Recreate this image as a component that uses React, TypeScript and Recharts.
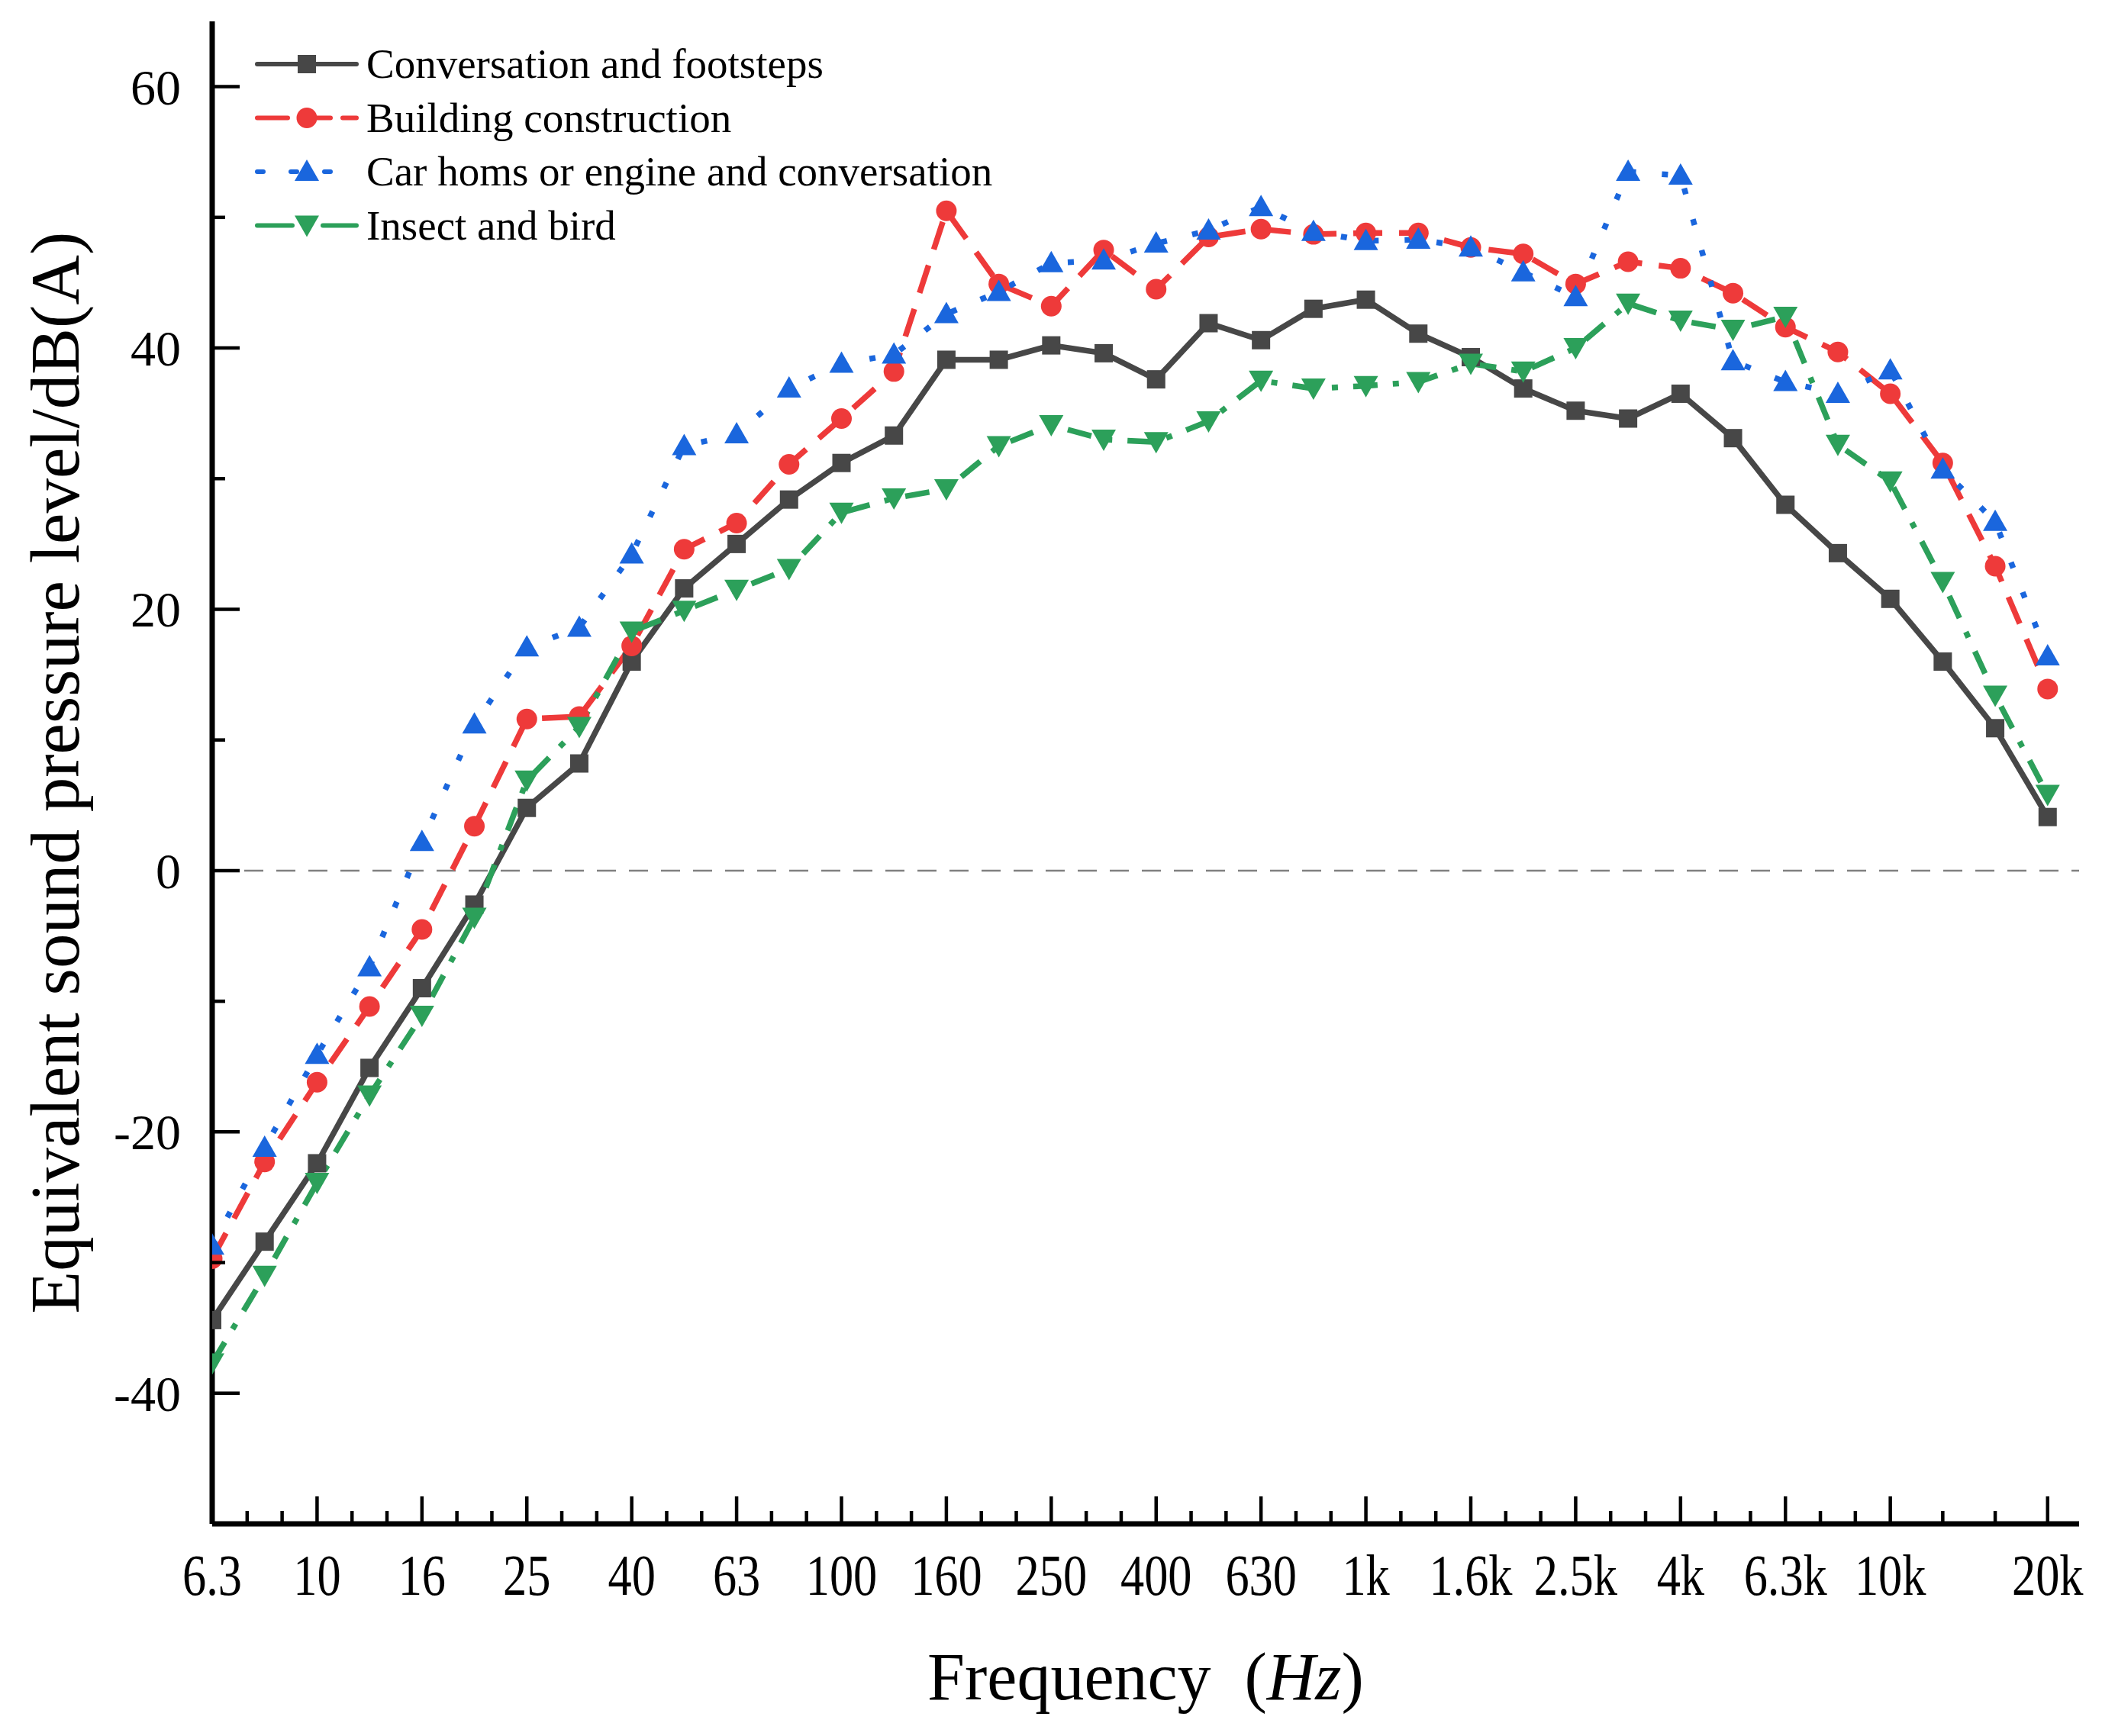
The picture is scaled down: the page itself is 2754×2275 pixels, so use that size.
import React from "react";
import { LineChart, Line, XAxis, YAxis, ReferenceLine, Legend } from "recharts";

// 1/3-octave band centre frequencies (Hz)
const bands = [
  "6.3", "8", "10", "12.5", "16", "20", "25", "31.5", "40", "50", "63", "80",
  "100", "125", "160", "200", "250", "315", "400", "500", "630", "800", "1k",
  "1.25k", "1.6k", "2k", "2.5k", "3.15k", "4k", "5k", "6.3k", "8k", "10k",
  "12.5k", "16k", "20k",
];

const conversation = [
  -34.4, -28.4, -22.4, -15.1, -9.0, -2.6, 4.8, 8.2, 16.0, 21.6, 25.0, 28.4,
  31.2, 33.3, 39.1, 39.1, 40.2, 39.6, 37.6, 41.9, 40.6, 43.0, 43.7, 41.1,
  39.3, 36.9, 35.2, 34.6, 36.5, 33.1, 28.0, 24.3, 20.8, 16.0, 10.9, 4.1,
];

const construction = [
  -29.7, -22.3, -16.2, -10.4, -4.5, 3.4, 11.6, 11.8, 17.2, 24.6, 26.6, 31.1,
  34.6, 38.2, 50.5, 44.9, 43.2, 47.5, 44.5, 48.5, 49.1, 48.7, 48.8, 48.8,
  47.7, 47.2, 44.9, 46.6, 46.1, 44.2, 41.6, 39.7, 36.5, 31.2, 23.3, 13.9,
];

const carHorns = [
  -28.7, -21.2, -14.1, -7.4, 2.2, 11.2, 17.1, 18.6, 24.2, 32.5, 33.4, 36.9,
  38.8, 39.5, 42.6, 44.3, 46.5, 46.7, 48.0, 49.0, 50.8, 48.9, 48.2, 48.3,
  47.7, 45.8, 43.9, 53.5, 53.2, 39.0, 37.4, 36.5, 38.3, 30.7, 26.7, 16.4,
];

const insectBird = [
  -37.7, -31.0, -23.9, -17.2, -11.1, -3.6, 6.9, 11.0, 18.3, 19.9, 21.5, 23.1,
  27.4, 28.5, 29.2, 32.5, 34.1, 33.0, 32.8, 34.4, 37.5, 36.9, 37.1, 37.4,
  38.8, 38.2, 40.0, 43.4, 42.1, 41.4, 42.4, 32.6, 29.8, 22.1, 13.4, 5.8,
];

// bands that carry a label on the x axis
const labelledBands = [
  "6.3", "10", "16", "25", "40", "63", "100", "160", "250", "400", "630",
  "1k", "1.6k", "2.5k", "4k", "6.3k", "10k", "20k",
];

const yTicks = [-50, -40, -30, -20, -10, 0, 10, 20, 30, 40, 50, 60];

const FONT = '"Liberation Serif", "Times New Roman", serif';
const BLACK = "#474747";
const RED = "#ee3a3a";
const BLUE = "#1a66dd";
const GREEN = "#2ca05a";

const data = bands.map((band, i) => ({
  idx: i,
  band,
  conversation: conversation[i],
  construction: construction[i],
  carHorns: carHorns[i],
  insectBird: insectBird[i],
}));

const majorX = labelledBands.map((b) => bands.indexOf(b));
const majorLabel = new Map(majorX.map((v, i) => [v, labelledBands[i]]));
const minorX: number[] = [];
for (let i = 0; i < majorX.length - 1; i++) {
  const a = majorX[i];
  const step = (majorX[i + 1] - a) / 3;
  minorX.push(a + step, a + 2 * step);
}
const xTicks = [...majorX, ...minorX].sort((a, b) => a - b);

function XTick({ x, y, payload }: any) {
  const label = majorLabel.get(payload.value);
  const major = label !== undefined;
  return (
    <g>
      <line x1={x} x2={x} y1={y} y2={y - (major ? 36 : 17)} stroke="#000" strokeWidth={4.5} />
      {major && (
        <text
          transform={`translate(${x},${y + 93}) scale(0.81,1)`}
          textAnchor="middle"
          fontSize={77}
          fontFamily={FONT}
          fill="#000"
        >
          {label}
        </text>
      )}
    </g>
  );
}

function YTick({ x, y, payload }: any) {
  const v = payload.value as number;
  const major = v % 20 === 0;
  return (
    <g>
      <line x1={x} x2={x + (major ? 36 : 17)} y1={y} y2={y} stroke="#000" strokeWidth={4.5} />
      {major && (
        <text x={x - 41} y={y + 23} textAnchor="end" fontSize={66} fontFamily={FONT} fill="#000">
          {v}
        </text>
      )}
    </g>
  );
}

type Shape = "square" | "circle" | "up" | "down";

function marker(shape: Shape, color: string, cx: number, cy: number, key?: string) {
  if (shape === "square") {
    return <rect key={key} x={cx - 12} y={cy - 12} width={24} height={24} fill={color} />;
  }
  if (shape === "circle") {
    return <circle key={key} cx={cx} cy={cy} r={13.5} fill={color} />;
  }
  if (shape === "up") {
    return (
      <path key={key} d={`M${cx},${cy - 16} L${cx + 16},${cy + 12} L${cx - 16},${cy + 12} Z`} fill={color} />
    );
  }
  return (
    <path key={key} d={`M${cx - 16},${cy - 13} L${cx + 16},${cy - 13} L${cx},${cy + 15} Z`} fill={color} />
  );
}

const dotFor = (shape: Shape, color: string) => (props: any) =>
  marker(shape, color, props.cx, props.cy, `${props.dataKey}-${props.index}`);

const series = [
  { key: "conversation", name: "Conversation and footsteps", color: BLACK, dash: undefined, legendDash: undefined, shape: "square" as Shape },
  { key: "construction", name: "Building construction", color: RED, dash: "38 22", legendDash: "40 16", shape: "circle" as Shape },
  { key: "carHorns", name: "Car homs or engine and conversation", color: BLUE, dash: "8 34", legendDash: "8 36", shape: "up" as Shape },
  { key: "insectBird", name: "Insect and bird", color: GREEN, dash: "32 20 8 20", legendDash: "46 40", shape: "down" as Shape },
];

function LegendBox() {
  return (
    <svg width={1100} height={285} style={{ display: "block" }}>
      {series.map((s, i) => {
        const cy = 35 + i * 70.5;
        return (
          <g key={s.key}>
            <line x1={4} x2={134} y1={cy} y2={cy} stroke={s.color} strokeWidth={6} strokeLinecap="round" strokeDasharray={s.legendDash} />
            {marker(s.shape, s.color, 69, cy)}
            <text x={147} y={cy + 18} fontSize={55} fontFamily={FONT} fill="#000">
              {s.name}
            </text>
          </g>
        );
      })}
    </svg>
  );
}

function YTitle({ viewBox }: any) {
  const cy = viewBox.y + viewBox.height / 2;
  return (
    <text
      transform={`translate(${viewBox.x + 72},${cy}) rotate(-90)`}
      textAnchor="middle"
      dominantBaseline="central"
      fontSize={91}
      fontFamily={FONT}
      fill="#000"
    >
      Equivalent sound pressure level/dB(A)
    </text>
  );
}

function XTitle({ viewBox }: any) {
  const cx = viewBox.x + viewBox.width / 2;
  return (
    <text x={cx} y={viewBox.y + 230} textAnchor="middle" fontSize={88} fontFamily={FONT} fill="#000">
      <tspan>{"Frequency\u2002("}</tspan>
      <tspan fontStyle="italic">Hz</tspan>
      <tspan>)</tspan>
    </text>
  );
}

export default function App() {
  return (
    <div style={{ position: "absolute", left: 0, top: 0, background: "#fff" }}>
      <LineChart
        width={2754}
        height={2275}
        data={data}
        margin={{ top: 28, right: 30, bottom: 0, left: 0 }}
      >
        <XAxis
          dataKey="idx"
          type="number"
          domain={[0, 35.6]}
          ticks={xTicks}
          interval={0}
          height={278}
          tickSize={0}
          tickMargin={0}
          tickLine={false}
          tick={<XTick />}
          axisLine={{ stroke: "#000", strokeWidth: 7 }}
          allowDataOverflow
          label={{ content: (p: any) => <XTitle {...p} /> }}
        />
        <XAxis
          xAxisId="top"
          orientation="top"
          dataKey="idx"
          type="number"
          domain={[0, 35.6]}
          height={0}
          tick={false}
          tickLine={false}
          axisLine={{ stroke: "#000", strokeWidth: 7 }}
        />
        <YAxis
          type="number"
          domain={[-50, 65]}
          ticks={yTicks}
          interval={0}
          width={278}
          tickSize={0}
          tickMargin={0}
          tickLine={false}
          tick={<YTick />}
          axisLine={{ stroke: "#000", strokeWidth: 7 }}
          allowDataOverflow
          label={{ content: (p: any) => <YTitle {...p} /> }}
        />
        <YAxis
          yAxisId="right"
          orientation="right"
          type="number"
          domain={[-50, 65]}
          width={0}
          tick={false}
          tickLine={false}
          axisLine={{ stroke: "#000", strokeWidth: 7 }}
        />
        <ReferenceLine y={0} stroke="#808080" strokeWidth={2.5} strokeDasharray="25 17" />
        <Legend
          layout="horizontal"
          verticalAlign="middle"
          align="center"
          wrapperStyle={{ position: "absolute", left: 333, top: 49, width: 1100 }}
          content={() => <LegendBox />}
        />
        {series.map((s) => (
          <Line
            key={s.key}
            type="linear"
            dataKey={s.key}
            name={s.name}
            stroke={s.color}
            strokeWidth={7.5}
            strokeDasharray={s.dash}
            dot={dotFor(s.shape, s.color)}
            activeDot={false}
            isAnimationActive={false}
          />
        ))}
      </LineChart>
    </div>
  );
}
